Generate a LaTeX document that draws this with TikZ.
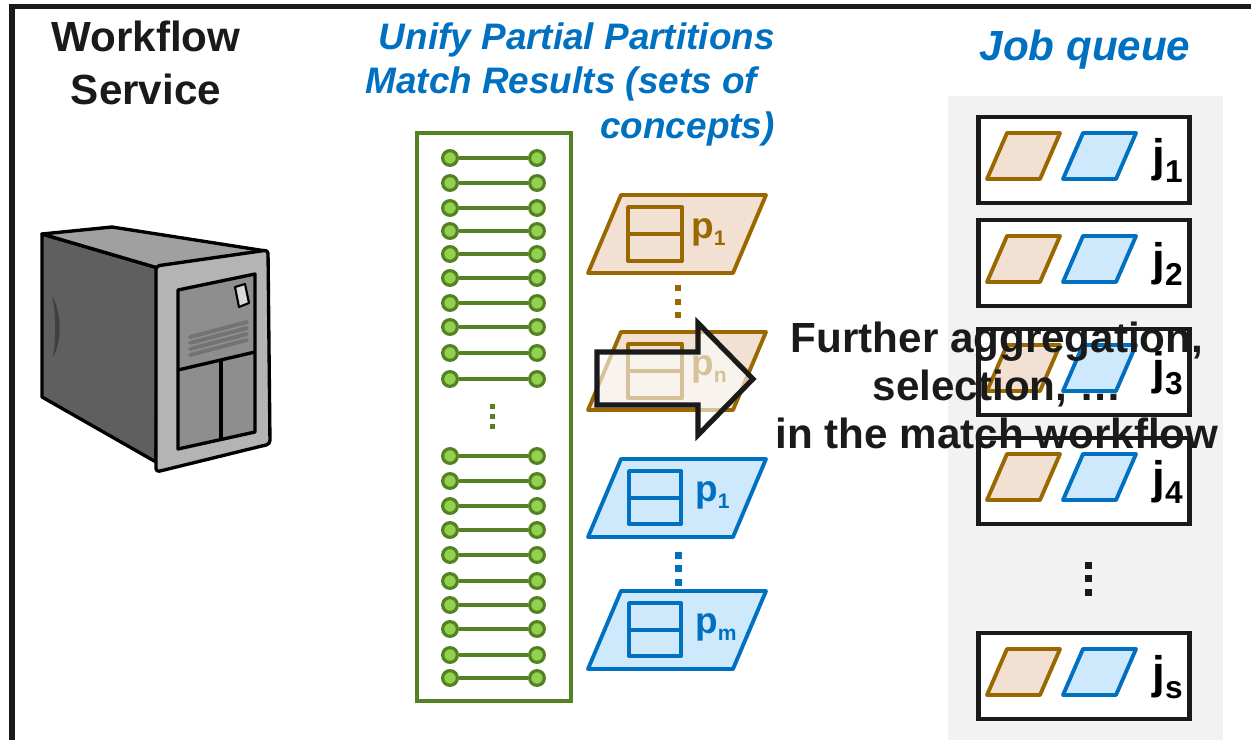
\documentclass[tikz,border=0pt]{standalone}
\usepackage{fontspec}
\setmainfont{Liberation Sans}
\usetikzlibrary{shapes,arrows,positioning,calc}
\usepackage{xcolor}
\definecolor{ink}{RGB}{26,26,26}
\definecolor{qblue}{RGB}{0,112,192}
\definecolor{skyfill}{RGB}{207,233,252}
\definecolor{gold}{RGB}{153,104,0}
\definecolor{peach}{RGB}{242,225,211}
\definecolor{leaf}{RGB}{84,130,35}
\definecolor{lime}{RGB}{146,208,80}
\definecolor{queuegray}{RGB}{242,242,242}
\definecolor{srvdark}{RGB}{95,95,95}
\definecolor{srvtop}{RGB}{160,160,160}
\definecolor{srvbezel}{RGB}{180,180,180}
\definecolor{srvpanel}{RGB}{142,142,142}

\newcommand{\psub}[1]{\raisebox{-4pt}{\fontsize{12}{12}\selectfont #1}}
\newcommand{\jsub}[1]{\raisebox{-6pt}{\fontsize{18}{18}\selectfont #1}}

\begin{document}
\begin{tikzpicture}[x=0.02cm, y=-0.02cm,
    frameline/.style={draw=ink, line width=2.9pt},
    srv/.style={draw=black, line width=1.9pt, line join=round},
    part/.style={line width=2.2pt, line join=round},
    goldpar/.style={part, draw=gold, fill=peach},
    bluepar/.style={part, draw=qblue, fill=skyfill},
    pairdot/.style={circle, draw=leaf, fill=lime, line width=1.8pt, minimum size=8.4pt, inner sep=0},
    pairline/.style={draw=leaf, line width=2.3pt},
    jobbox/.style={rectangle, draw=ink, fill=white, line width=2.5pt, minimum width=120pt, minimum height=48.8pt, inner sep=0},
    plab/.style={anchor=base west, inner sep=0, font=\fontsize{21}{21}\selectfont\bfseries},
    jlab/.style={anchor=base west, inner sep=0, text=black, font=\fontsize{26}{26}\selectfont\bfseries},
    title/.style={inner sep=0, font=\fontsize{21}{25.5}\selectfont\bfseries\itshape, text=qblue},
    bigarrow/.style={draw=ink, line width=2.9pt, fill=white, fill opacity=0.6, line join=miter}]

    \useasboundingbox (0,0) rectangle (1251,740);

    % outer frame, cut by the page on the right and bottom
    \draw[frameline] (12,740) -- (12,6.5) -- (1251,6.5);

    % server tower
    \begin{scope}[srv]
        \filldraw[fill=srvdark] (42,234) -- (158,268) -- (156,462) -- (42,397) -- cycle;
        \fill[black!75] (52,296) .. controls (62,312) and (62,342) .. (53,357) .. controls (56,340) and (56,312) .. (52,296) -- cycle;
        \filldraw[fill=srvtop] (42,234) -- (112,227) -- (266,251) -- (158,268) -- cycle;
        \filldraw[fill=srvbezel, rounded corners=2pt] (156,266) -- (268,250) -- (270,444) -- (156,472) -- cycle;
        \filldraw[fill=srvpanel] (178,290) -- (255,274) -- (255,432) -- (178,449) -- cycle;
        \draw (178,370) -- (255,352);
        \draw (221,361) -- (221,439);
        \foreach \v in {0,6,12,18}
            \draw[draw=black!55, line width=2.2pt, line cap=round] (190,337+\v) -- (247,322+\v);
        \filldraw[fill=black!15, line width=1.2pt] (235,287) -- (245,284) -- (249,303) -- (239,307) -- cycle;
    \end{scope}

    \node[inner sep=0, align=center, anchor=north, text=ink, font=\fontsize{24}{30}\selectfont\bfseries] (wfs) at (146,21) {Workflow\\Service};

    % unified match results
    \node[title, align=right, anchor=north east] (unify) at (775,22) {Unify Partial Partitions\\Match Results (sets of\rule{10pt}{0pt}\\concepts)};

    \draw[draw=leaf, line width=1.8pt] (417,133) rectangle (571,701);
    \foreach \y in {158,183,208,231,254,278,303,327,353,379,456,481,506,530,555,581,605,629,655,678} {
        \node[pairdot] (l\y) at (450,\y) {};
        \node[pairdot] (r\y) at (537,\y) {};
        \draw[pairline] (l\y) -- (r\y);
    }
    \foreach \y in {406,416,426}
        \fill[leaf] (489.5,\y-2.5) rectangle ++(5,5);

    % partitions of the first and the second source
    \foreach \yb/\s in {273/1,410/n} {
        \draw[goldpar] (588,\yb) -- ++(145,0) -- ++(33,-78) -- ++(-145,0) -- cycle;
        \draw[part, draw=gold] (628,\yb-66) rectangle (682,\yb-12);
        \draw[part, draw=gold] (628,\yb-39) -- (682,\yb-39);
        \node[plab, text=gold] (pg\s) at (691,\yb-35) {p\psub{\s}};
    }
    \foreach \y in {288,302,315}
        \fill[gold] (675,\y-3) rectangle ++(6,6);

    \foreach \yb/\s in {537/1,669/m} {
        \draw[bluepar] (588,\yb) -- ++(145,0) -- ++(33,-78) -- ++(-145,0) -- cycle;
        \draw[part, draw=qblue] (629,\yb-66) rectangle (681,\yb-13);
        \draw[part, draw=qblue] (629,\yb-39) -- (681,\yb-39);
        \node[plab, text=qblue] (pb\s) at (695,\yb-36) {p\psub{\s}};
    }
    \foreach \y in {555,568,582}
        \fill[qblue] (675,\y-3.5) rectangle ++(7,7);

    % job queue
    \fill[queuegray] (948,96) rectangle (1223,740);
    \node[title, anchor=north, font=\fontsize{24}{28}\selectfont\bfseries\itshape] (jq) at (1085,30) {Job queue};
    \foreach \t/\jj in {115/1,218/2,327/3,436/4,631/s} {
        \node[jobbox] (job\jj) at (1084,\t+45) {};
        \draw[goldpar] (987,\t+64) -- ++(53,0) -- ++(20,-46) -- ++(-53,0) -- cycle;
        \draw[bluepar] (1063,\t+64) -- ++(53,0) -- ++(20,-46) -- ++(-53,0) -- cycle;
        \node[jlab] (jl\jj) at (1152,\t+57) {j\jsub{\jj}};
    }
    \foreach \y in {565,578,592}
        \fill[ink] (1084.5,\y-3.5) rectangle ++(7,7);

    % hand-over to the rest of the workflow
    \draw[bigarrow] (597,352) -- (698,352) -- (698,323) -- (753,379) -- (698,435) -- (698,405) -- (597,405) -- cycle;
    \node[inner sep=0, align=center, anchor=north, text=ink, font=\fontsize{24}{27.2}\selectfont\bfseries] (further) at (997,322) {Further aggregation,\\selection, \ldots\\in the match workflow};
\end{tikzpicture}
\end{document}
